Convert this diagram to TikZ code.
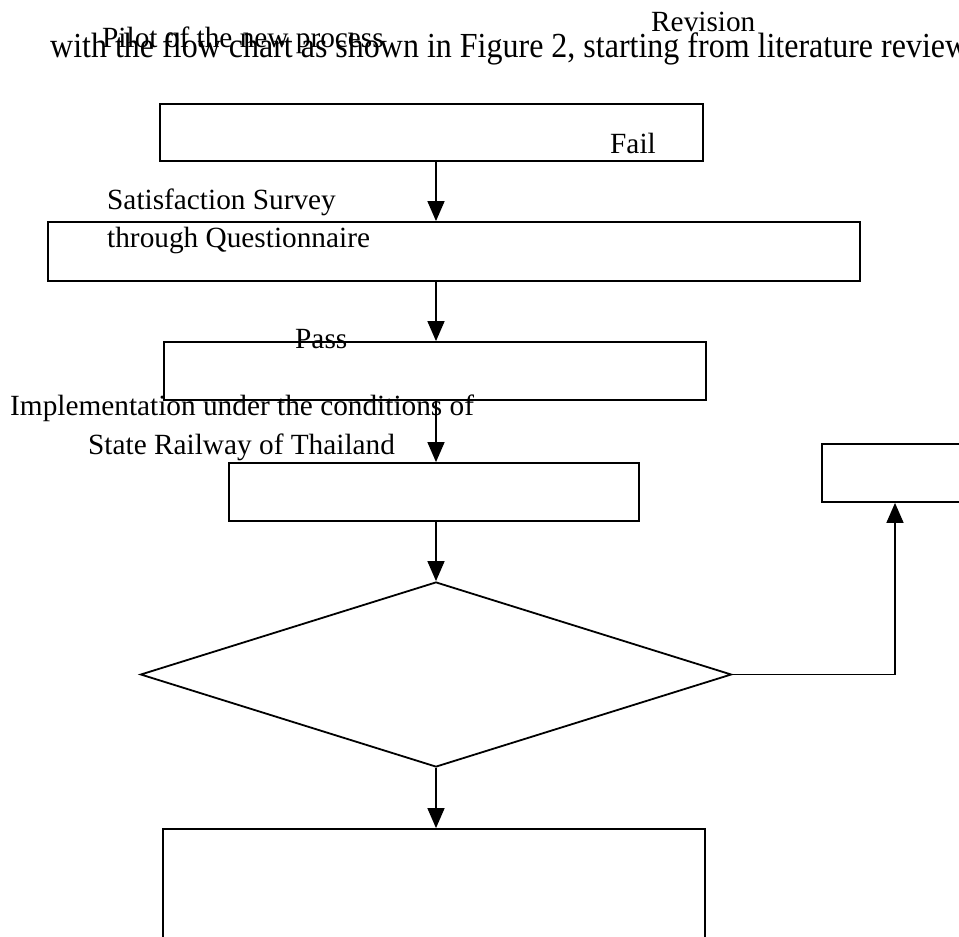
\documentclass[tikz,border=0pt]{standalone}
\usepackage{fontspec}
\setmainfont{Liberation Serif}
\usetikzlibrary{arrows.meta,shapes.geometric}
\tikzset{
  boxnode/.style={draw,rectangle,inner sep=0pt,line width=1.8pt},
  arr/.style={line width=1.5pt,-{Triangle[length=20pt,width=17pt]}},
  lbl/.style={anchor=base west,inner sep=0pt,font=\fontsize{29.3}{35}\selectfont},
  bigtxt/.style={anchor=base west,inner sep=0pt,font=\fontsize{32}{38}\selectfont}
}
\begin{document}
\begin{tikzpicture}[x=1pt,y=-1pt]
\useasboundingbox (0,0) rectangle (959,937);
\clip (0,0) rectangle (959,937);
\fill[white] (0,0) rectangle (959,937);
% texts
\node[bigtxt] (main) at (50,57) {\scalebox{1}[1.1]{with the flow chart as shown in Figure 2, starting from literature review}};
\node[lbl] (rev) at (651,31) {Revision};
\node[lbl] (pilot) at (102,47) {Pilot of the new process};
% boxes
\node[boxnode,minimum width=543pt,minimum height=57pt] (b1) at (431.5,132.5) {};
\node[boxnode,minimum width=812pt,minimum height=59pt] (b2) at (454,251.5) {};
\node[boxnode,minimum width=542pt,minimum height=58pt] (b3) at (435,371) {};
\node[boxnode,minimum width=410pt,minimum height=58pt] (b4) at (434,492) {};
\node[boxnode,minimum width=178pt,minimum height=58pt] (rb) at (911,473) {};
\node[boxnode,minimum width=542pt,minimum height=140pt] (b5) at (434,899) {};
\node[draw,diamond,inner sep=0pt,line width=1.8pt,minimum width=591pt,minimum height=185pt] (dia) at (436,674.5) {};
% labels
\node[lbl] (fail) at (610,153) {Fail};
\node[lbl] (sat) at (107,209) {Satisfaction Survey};
\node[lbl] (thr) at (107,247) {through Questionnaire};
\node[lbl] (pass) at (295,348) {Pass};
\node[lbl] (impl) at (10,415) {Implementation under the conditions of};
\node[lbl] (srt) at (88,454) {State Railway of Thailand};
% axis coordinates
\coordinate (ax) at (436,0);
\coordinate (rx) at (895,0);
% connectors
\draw[arr] (b1.south -| ax) -- (b2.north -| ax);
\draw[arr] (b2.south -| ax) -- (b3.north -| ax);
\draw[arr] (b3.south -| ax) -- (b4.north -| ax);
\draw[arr] (b4.south -| ax) -- (dia.north);
\draw[arr] (dia.south) -- (b5.north -| dia.south);
\draw[arr] (dia.east) -- (dia.east -| rx) -- (rb.south -| rx);
\end{tikzpicture}
\end{document}
